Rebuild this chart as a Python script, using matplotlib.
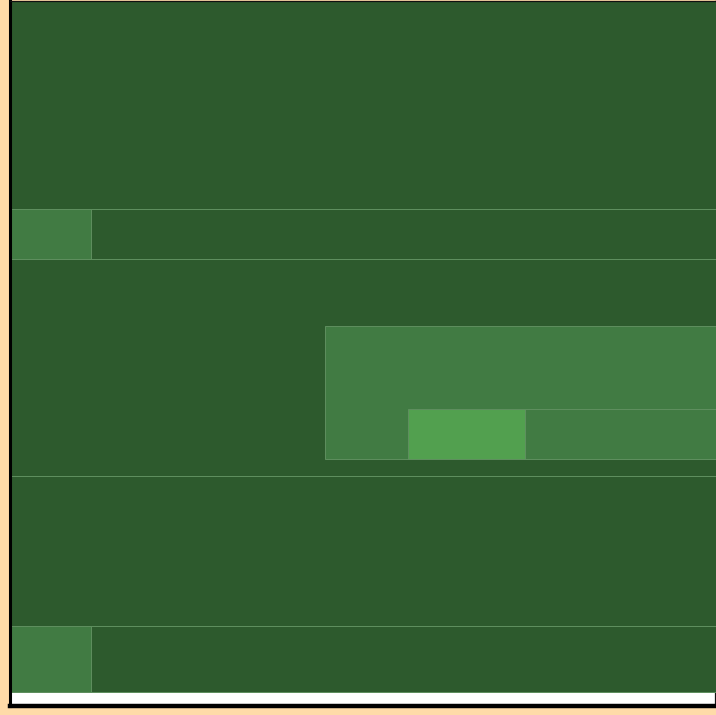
import matplotlib as mpl
mpl.use("Agg")
import matplotlib.pyplot as plt
from matplotlib.patches import Rectangle

# nested blocks: horizontal extent, vertical extent (0 = top), nesting depth
names = ["root", "r1", "r2", "r3", "r4", "r5", "a", "b", "c", "d", "e"]
x0 = [0.0, 0.0, 0.0, 0.0, 0.0, 0.0, 0.0, 44.7, 56.5, 73.1, 0.0]
x1 = [101.0, 101.0, 101.0, 101.0, 101.0, 101.0, 11.55, 101.0, 73.1, 101.0, 11.55]
y0 = [0.0, 0.0, 29.6, 36.7, 67.4, 88.7, 29.6, 46.2, 57.9, 57.9, 88.7]
y1 = [98.1, 29.6, 36.7, 67.4, 88.7, 98.1, 36.7, 65.0, 65.0, 65.0, 98.1]
depth = [0, 0, 0, 0, 0, 0, 1, 1, 2, 1, 1]

FILL = {0: "#2D5A2D", 1: "#417B43", 2: "#52A04F"}
EDGE = "#5F8F5F"
BG = "#FFDBA8"

fig = plt.figure(figsize=(7.16, 7.15), dpi=100, facecolor=BG)
ax = fig.add_axes([9.5 / 716, 9.5 / 715, 705.5 / 716, 705 / 715])
ax.set_facecolor("white")

for n, a, b, c, d, k in zip(names, x0, x1, y0, y1, depth):
    ax.add_patch(Rectangle((a, c), b - a, d - c, facecolor=FILL[k],
                           edgecolor=EDGE, lw=0.7, zorder=1 + k,
                           clip_on=False))

ax.set_xlim(0, 100)
ax.set_ylim(100, 0)
ax.set_xticks([]); ax.set_yticks([])
for s in ("top", "right"):
    ax.spines[s].set_linewidth(0.9)
    ax.spines[s].set_color("#111")
ax.spines["left"].set_linewidth(2.2)
ax.spines["bottom"].set_linewidth(3.2)
for s in ("top", "left", "bottom"):
    ax.spines[s].set_zorder(10)
ax.spines["right"].set_zorder(0.5)

fig.savefig("out.png", dpi=100, facecolor=BG)
